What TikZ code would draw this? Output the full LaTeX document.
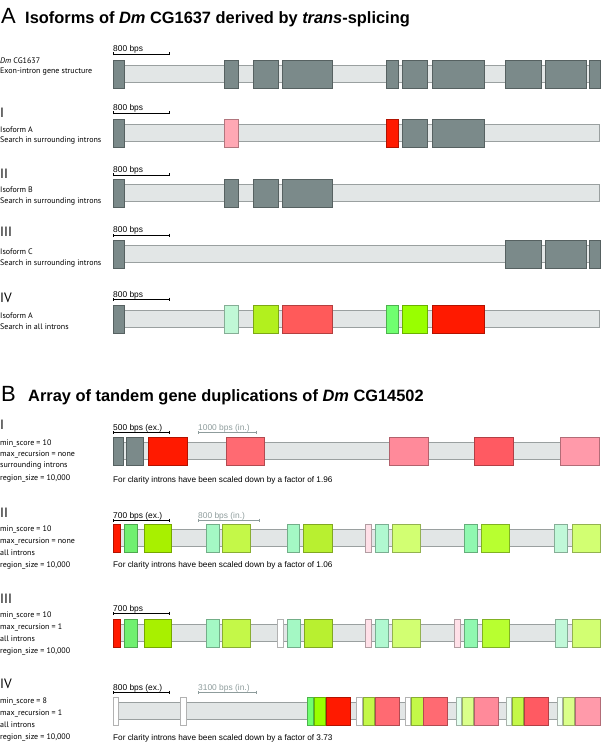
\documentclass[tikz,border=0pt]{standalone}
\usepackage{fontspec}
\usetikzlibrary{arrows.meta}
\setmainfont{Liberation Sans}
\newfontfamily\labelfont{PT Sans}

\definecolor{exongray}{HTML}{7B8A8A}
\definecolor{intronfill}{HTML}{E2E6E6}
\definecolor{intronline}{HTML}{9AA0A0}
\definecolor{inscale}{HTML}{8E9C9C}
\definecolor{ared}{HTML}{FF1A00}
\definecolor{apink}{HTML}{FFA8B4}
\definecolor{amint}{HTML}{C0F8D6}
\definecolor{alime}{HTML}{B2F01E}
\definecolor{acoral}{HTML}{FF5A5A}
\definecolor{agreen}{HTML}{70FF70}
\definecolor{abrightlime}{HTML}{99FF00}
\definecolor{bcoral}{HTML}{FF6A72}
\definecolor{bpink}{HTML}{FF8A9A}
\definecolor{bredcoral}{HTML}{FF5A62}
\definecolor{blightpink}{HTML}{FF9AAA}
\definecolor{bgreen}{HTML}{70F070}
\definecolor{blime}{HTML}{A8F000}
\definecolor{bmint}{HTML}{A4F8C4}
\definecolor{byellowlime}{HTML}{C4F848}
\definecolor{blimetwo}{HTML}{B8F030}
\definecolor{bpalepink}{HTML}{FFE0E8}
\definecolor{bminttwo}{HTML}{B0F8D0}
\definecolor{bpalelime}{HTML}{D2FF72}
\definecolor{bmintgreen}{HTML}{90F8B0}
\definecolor{blimethree}{HTML}{B8FF30}
\definecolor{bmintthree}{HTML}{C0F8D8}
\definecolor{bwhite}{HTML}{FFFFFF}
\definecolor{bpalemint}{HTML}{E4FFF0}
\definecolor{bpaleyellow}{HTML}{DAFF8A}
\definecolor{bwhitemint}{HTML}{F2FFF6}

\begin{document}
\begin{tikzpicture}[x=1pt,y=-1pt]
        \tikzstyle{intron}=[draw=intronline, fill=intronfill, line width=0.7pt]
        \tikzstyle{exon}=[line width=0.7pt]
        \tikzstyle{lab}=[anchor=west, inner sep=0pt, font=\labelfont\fontsize{8}{9.5}\selectfont]
        \tikzstyle{numeral}=[anchor=west, inner sep=0pt, font=\labelfont\fontsize{13.5}{15}\selectfont]
        \tikzstyle{bps}=[anchor=base west, inner sep=0pt, font=\fontsize{8.4}{10}\selectfont]
        \tikzstyle{note}=[anchor=base west, inner sep=0pt, font=\fontsize{8.2}{10}\selectfont]
        \tikzstyle{scalebar}=[{Bar[width=3pt]}-{Bar[width=3pt]}, line width=0.6pt]
        \tikzstyle{panel}=[anchor=base west, inner sep=0pt]

            \useasboundingbox (0,0) rectangle (600,743);

            \node[panel, font=\fontsize{22}{24}\selectfont](A) at (1,24){A};
            \node[panel, font=\bfseries\fontsize{16.4}{18}\selectfont](titleA) at (25,24){Isoforms of \textit{Dm} CG1637 derived by \textit{trans}-splicing};
            \node[panel, font=\fontsize{22}{24}\selectfont](B) at (1,401){B};
            \node[panel, font=\bfseries\fontsize{16.4}{18}\selectfont](titleB) at (28,401){Array of tandem gene duplications of \textit{Dm} CG14502};

            \foreach \n/\y/\t in {a0a/61/{\textit{Dm} CG1637}, a0b/72/Exon-intron gene structure,
                a1a/130/Isoform A, a1b/141/Search in surrounding introns,
                a2a/190/Isoform B, a2b/202/Search in surrounding introns,
                a3a/252/Isoform C, a3b/263/Search in surrounding introns,
                a4a/316/Isoform A, a4b/327/Search in all introns,
                b1a/443/min\_score = 10, b1b/454/max\_recursion = none, b1c/466/surrounding introns, b1d/478/{region\_size = 10,000},
                b2a/529/min\_score = 10, b2b/541/max\_recursion = none, b2c/553/all introns, b2d/565/{region\_size = 10,000},
                b3a/615/min\_score = 10, b3b/627/max\_recursion = 1, b3c/639/all introns, b3d/651/{region\_size = 10,000},
                b4a/701/min\_score = 8, b4b/713/max\_recursion = 1, b4c/725/all introns, b4d/737/{region\_size = 10,000}}
            \node[lab](\n) at (0,\y){\t};

            \foreach \n/\y/\t in {a1n/113/I, a2n/174/II, a3n/232/III, a4n/298/IV,
                b1n/425/I, b2n/513/II, b3n/599/III, b4n/684/IV}
            \node[numeral](\n) at (0,\y){\t};

            \foreach \n/\y/\t in {sa0/54/800 bps, sa1/113/800 bps, sa2/175/800 bps, sa3/235/800 bps, sa4/299/800 bps,
                sb1/432/500 bps (ex.), sb2/520/700 bps (ex.), sb3/613/700 bps, sb4/692/800 bps (ex.)}
            {
            \coordinate(\n-l) at (113,\y);
            \coordinate(\n-r) at (170,\y);
            \draw[scalebar] (\n-l) -- (\n-r);
            \node[bps](\n-t) at ([yshift=2pt]\n-l){\t};
            }

            \foreach \n/\y/\e/\t in {ib1/432/257/1000 bps (in.), ib2/520/260/800 bps (in.), ib4/692/257/3100 bps (in.)}
            {
            \coordinate(\n-l) at (198,\y);
            \coordinate(\n-r) at (\e,\y);
            \draw[scalebar, draw=inscale] (\n-l) -- (\n-r);
            \node[bps, text=inscale](\n-t) at ([yshift=2pt]\n-l){\t};
            }

            \foreach \n/\y/\t in {nb1/482/1.96, nb2/567/1.06, nb4/740/3.73}
            \node[note](\n) at (113,\y){For clarity introns have been scaled down by a factor of \t};

            % part A
            \foreach \t in {60,119,179,240,305}
            \draw[intron] (113,\t+5) rectangle (599,\t+22);

            \foreach \from/\to/\col in {113/124/exongray, 224/238/exongray, 253/278/exongray, 282/332/exongray,
                386/398/exongray, 402/427/exongray, 432/484/exongray, 505/541/exongray, 545/586/exongray, 589/600/exongray}
            \draw[exon, draw=\col!70!black, fill=\col] (\from,60) rectangle (\to,88);

            \foreach \from/\to/\col in {113/124/exongray, 224/238/apink, 386/398/ared, 402/427/exongray, 432/484/exongray}
            \draw[exon, draw=\col!70!black, fill=\col] (\from,119) rectangle (\to,147);

            \foreach \from/\to/\col in {113/124/exongray, 224/238/exongray, 253/278/exongray, 282/332/exongray}
            \draw[exon, draw=\col!70!black, fill=\col] (\from,179) rectangle (\to,207);

            \foreach \from/\to/\col in {113/124/exongray, 505/541/exongray, 545/586/exongray, 589/600/exongray}
            \draw[exon, draw=\col!70!black, fill=\col] (\from,240) rectangle (\to,268);

            \foreach \from/\to/\col in {113/124/exongray, 224/238/amint, 253/278/alime, 282/332/acoral,
                386/398/agreen, 402/427/abrightlime, 432/484/ared}
            \draw[exon, draw=\col!70!black, fill=\col] (\from,305) rectangle (\to,333);

            % part B
            \foreach \t in {437,524,619,697}
            \draw[intron] (113,\t+5) rectangle (599,\t+22);

            \foreach \from/\to/\col in {113/123/exongray, 126/143/exongray, 148/187/ared, 226/264/bcoral,
                389/428/bpink, 474/513/bredcoral, 560/599/blightpink}
            \draw[exon, draw=\col!70!black, fill=\col] (\from,437) rectangle (\to,465);

            \foreach \from/\to/\col in {113/120/ared, 124/137/bgreen, 144/171/blime, 206/219/bmint, 222/250/byellowlime,
                287/299/bmint, 303/332/blimetwo, 365/371/bpalepink, 375/388/bminttwo, 392/420/bpalelime,
                464/477/bmintgreen, 481/509/blimethree, 554/567/bmintthree, 572/600/bpalelime}
            \draw[exon, draw=\col!70!black, fill=\col] (\from,524) rectangle (\to,552);

            \foreach \from/\to/\col in {113/120/ared, 124/137/bgreen, 144/171/blime, 206/219/bmint, 222/250/byellowlime,
                277/283/bwhite, 287/300/bmint, 304/332/blimetwo, 365/371/bpalepink, 375/388/bminttwo, 392/420/bpalelime,
                454/460/bpalepink, 464/477/bmintgreen, 482/509/blimethree, 555/567/bmintthree, 572/600/bpalelime}
            \draw[exon, draw=\col!70!black, fill=\col] (\from,619) rectangle (\to,647);

            \foreach \from/\to/\col in {113/118/bwhite, 180/186/bwhite, 307/313/agreen, 314/325/abrightlime, 326/350/ared,
                356/362/bwhite, 363/374/byellowlime, 375/399/bcoral, 405/410/bwhite, 411/423/byellowlime, 423/447/bcoral,
                456/461/bpalemint, 462/473/bpaleyellow, 474/498/bpink, 506/511/bwhitemint, 512/523/byellowlime,
                524/548/bredcoral, 557/562/bwhitemint, 563/574/bpaleyellow, 575/600/blightpink}
            \draw[exon, draw=\col!70!black, fill=\col] (\from,697) rectangle (\to,725);

        \end{tikzpicture}
\end{document}
